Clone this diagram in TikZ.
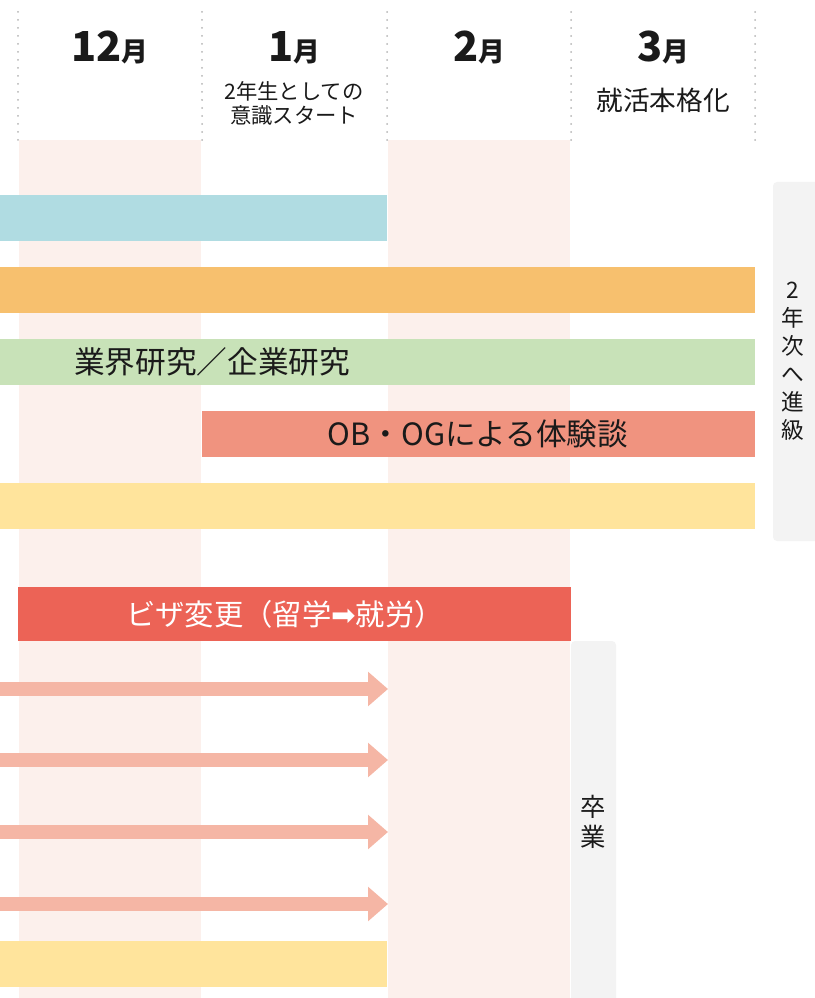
\documentclass[tikz,border=0pt]{standalone}
\usepackage{fontspec}
\setmainfont{Noto Sans CJK JP}
\newfontfamily\symfont{DejaVu Sans}
\usetikzlibrary{arrows.meta}

\definecolor{colpink}{HTML}{FCF0EC}
\definecolor{dotgray}{HTML}{B4B4B4}
\definecolor{boxgray}{HTML}{F3F3F3}
\definecolor{barblue}{HTML}{B0DCE2}
\definecolor{barorange}{HTML}{F7C06E}
\definecolor{bargreen}{HTML}{C8E2B8}
\definecolor{barsalmon}{HTML}{F0937F}
\definecolor{baryellow}{HTML}{FFE49C}
\definecolor{barred}{HTML}{EC6356}
\definecolor{arrowpink}{HTML}{F5B6A5}
\definecolor{ink}{HTML}{1A1A1A}

\newcommand{\tsuki}{{\fontsize{20}{20}\selectfont 月}}

\begin{document}
\begin{tikzpicture}[x=0.75pt, y=-0.75pt, text=ink,
    month/.style={anchor=base, font=\bfseries\fontsize{31}{31}\selectfont},
    sublabel/.style={align=center, font=\fontsize{16}{18}\selectfont},
    bartext/.style={font=\fontsize{23}{23}\selectfont},
    vtext/.style={align=center, font=\fontsize{17}{21}\selectfont},
    fatarrow/.style={arrowpink, line width=10.5pt, -{Triangle[length=15pt,width=25pt]}}]
\useasboundingbox (0,0) rectangle (814,998);

% shaded month columns
\fill[colpink] (19,140) rectangle (201,998);
\fill[colpink] (388,140) rectangle (570,998);

% dotted guides
\foreach \x in {18,202,387,571,755}
  \draw[dotgray, line width=1.5pt, line cap=round, dash pattern=on 0pt off 6pt] (\x,12) -- (\x,146);

% month headings
\node[month] (dec) at (110,62) {12\tsuki};
\node[month] (jan) at (294,62) {1\tsuki};
\node[month] (feb) at (479,62) {2\tsuki};
\node[month] (mar) at (663,62) {3\tsuki};
\node[sublabel] (janlabel) at (294,103) {2年生としての\\意識スタート};
\node[sublabel, font=\fontsize{20}{20}\selectfont] (marlabel) at (663,100) {就活本格化};

% bars
\fill[barblue] (0,195) rectangle (387,241);
\fill[barorange] (0,267) rectangle (755,313);
\fill[bargreen] (0,339) rectangle (755,385);
\node[bartext] (kenkyu) at (212,362) {業界研究／企業研究};
\fill[barsalmon] (202,411) rectangle (755,457);
\node[bartext] (obog) at (478,434) {OB・OGによる体験談};
\fill[baryellow] (0,483) rectangle (755,529);
\fill[barred] (18,587) rectangle (571,641);
\node[bartext, font=\fontsize{22}{22}\selectfont, text=white] (visa) at (285,614) {ビザ変更（留学{\symfont ➡}就労）};

% arrows to february
\foreach \n/\y in {1/689,2/760,3/832,4/904} {
  \coordinate (s\n) at (0,\y);
  \coordinate (e\n) at (388,\y);
  \draw[fatarrow] (s\n) -- (e\n);
}
\fill[baryellow] (0,941) rectangle (387,987);

% side boxes
\fill[boxgray, rounded corners=3pt] (773,182) rectangle (830,541);
\node[vtext] (shinkyu) at (793,361) {2\\年\\次\\へ\\進\\級};
\fill[boxgray, rounded corners=3pt] (571,641) rectangle (616,1010);
\node[vtext, font=\fontsize{19}{23}\selectfont] (sotsugyo) at (593,822) {卒\\業};
\end{tikzpicture}
\end{document}
